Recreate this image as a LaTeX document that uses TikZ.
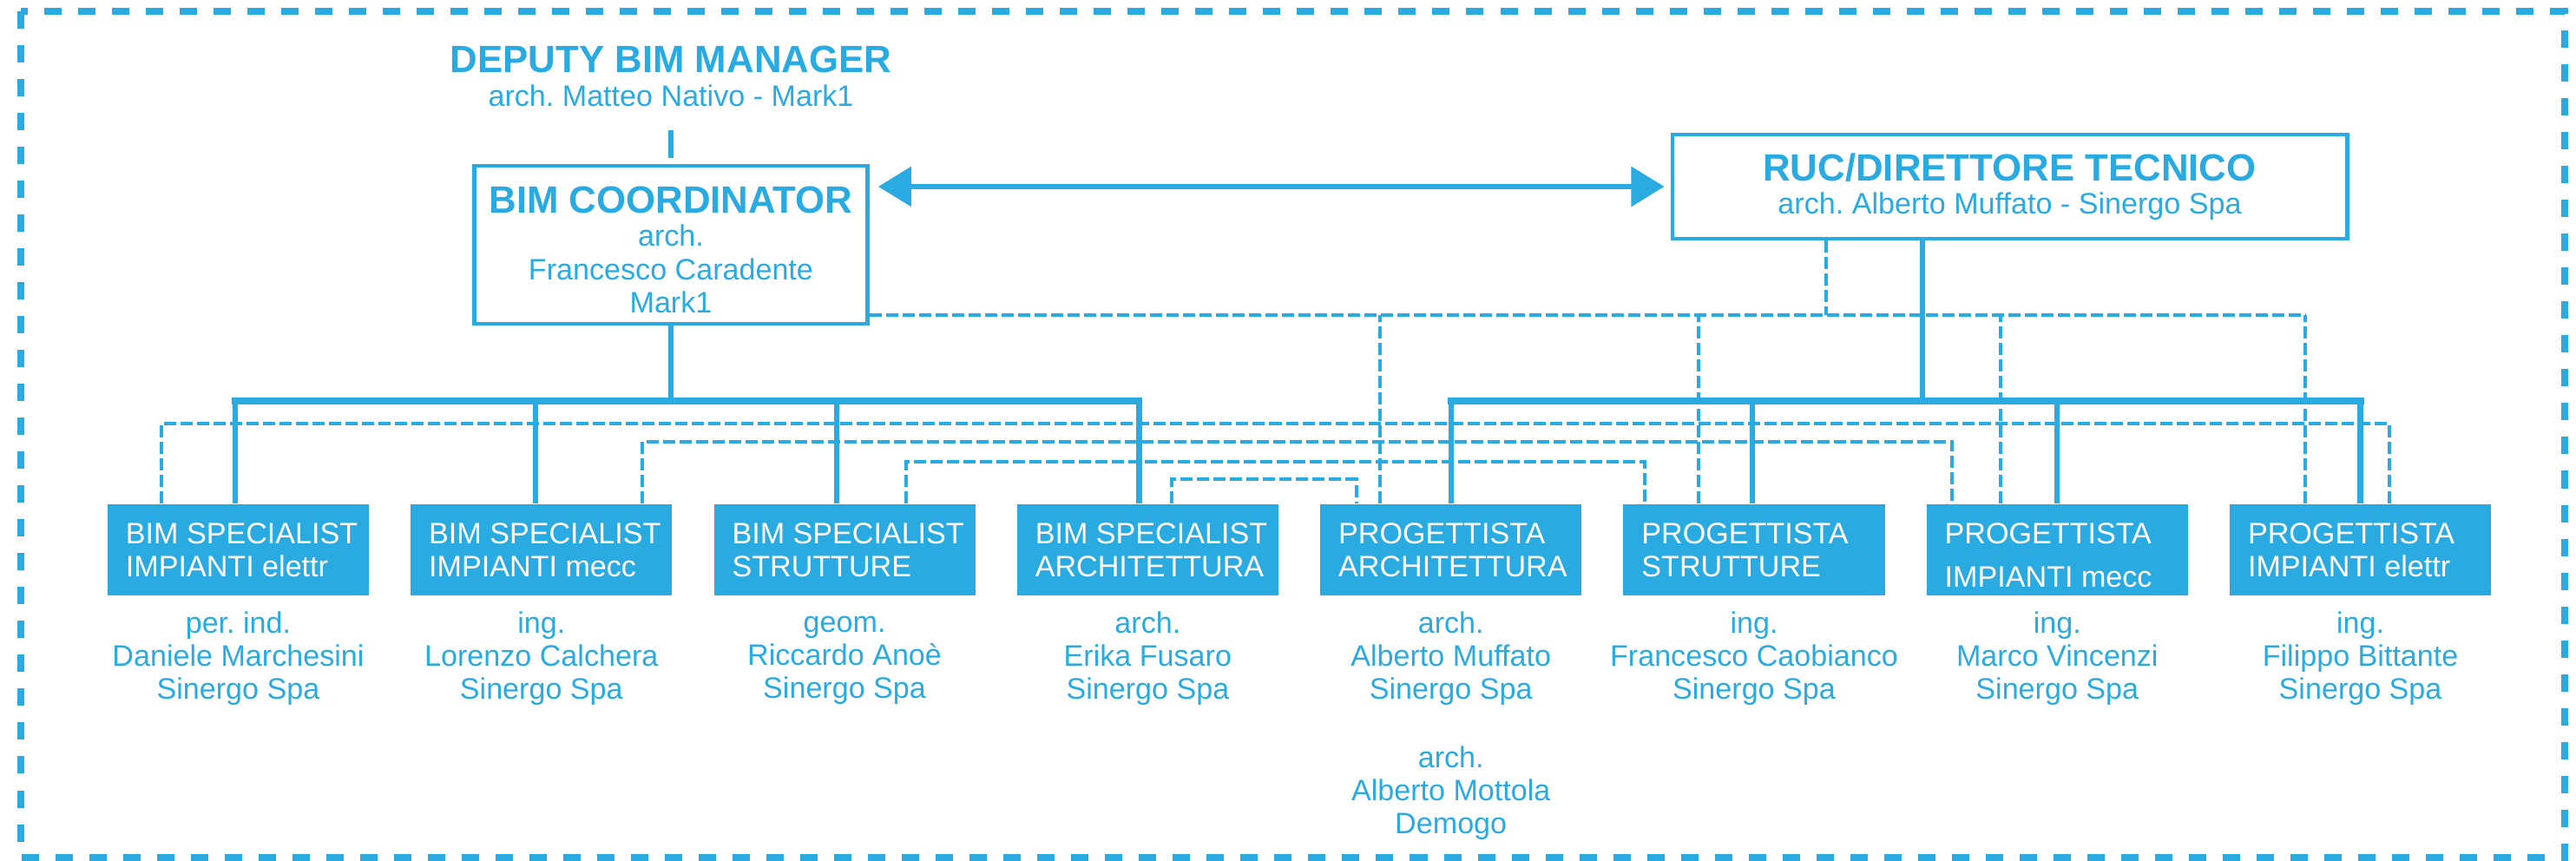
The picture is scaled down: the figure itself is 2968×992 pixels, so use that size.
\documentclass[tikz,border=0pt]{standalone}
\usepackage{fontspec}
\setmainfont{Liberation Sans}
\usetikzlibrary{arrows.meta}
\definecolor{bimblue}{RGB}{41,171,226}
\newcommand\bimhead{\fontsize{12.45}{14}\selectfont\bfseries}
\frenchspacing

\begin{document}
\begin{tikzpicture}[x=0.01cm,y=-0.01cm,
    every node/.style={text=bimblue,inner sep=0pt,align=center,
      font=\fontsize{9.7}{10.9}\selectfont},
    rolebox/.style={draw=bimblue,line width=1.3pt},
    specbox/.style={fill=bimblue,minimum width=3.01cm,minimum height=1.05cm},
    spectext/.style={text=white,align=left,anchor=west},
    person/.style={execute at begin node=\strut},
    frame/.style={draw=bimblue,line width=2.1pt,dash pattern=on 0.2cm off 0.19cm},
    trunk/.style={draw=bimblue,line width=2.3pt,line cap=rect},
    drop/.style={draw=bimblue,line width=1.8pt},
    link/.style={draw=bimblue,line width=1.1pt,dash pattern=on 0.14cm off 0.05cm},
    twoway/.style={draw=bimblue,fill=bimblue,line width=1.7pt,
      {Triangle[length=0.38cm,width=0.45cm]}-{Triangle[length=0.38cm,width=0.45cm]}}]
  \useasboundingbox (0,0) rectangle (2968,992);
  \draw[frame] (24,13) rectangle (2955,988);

  \node (deputy) at (773,88) {{\bimhead DEPUTY BIM MANAGER}\\arch. Matteo Nativo - Mark1};
  \node[rolebox,minimum width=4.53cm,minimum height=1.82cm] (coord) at (773,282)
    {{\bimhead\rule{0pt}{12pt}BIM COORDINATOR}\\arch.\\Francesco Caradente\\Mark1};
  \node[rolebox,minimum width=7.77cm,minimum height=1.2cm] (ruc) at (2315.5,215)
    {{\bimhead RUC/DIRETTORE TECNICO}\\arch. Alberto Muffato - Sinergo Spa};

  % specialist boxes
  \node[specbox] (b1) at (274.5,633.5) {};
  \node[specbox] (b2) at (623.8,633.5) {};
  \node[specbox] (b3) at (973.1,633.5) {};
  \node[specbox] (b4) at (1322.4,633.5) {};
  \node[specbox] (b5) at (1671.7,633.5) {};
  \node[specbox] (b6) at (2021,633.5) {};
  \node[specbox] (b7) at (2370.3,633.5) {};
  \node[specbox] (b8) at (2719.6,633.5) {};
  \node[spectext] (t1) at ([xshift=0.21cm]b1.west) {BIM SPECIALIST\\IMPIANTI elettr};
  \node[spectext] (t2) at ([xshift=0.21cm]b2.west) {BIM SPECIALIST\\IMPIANTI mecc};
  \node[spectext] (t3) at ([xshift=0.21cm]b3.west) {BIM SPECIALIST\\STRUTTURE};
  \node[spectext] (t4) at ([xshift=0.21cm]b4.west) {BIM SPECIALIST\\ARCHITETTURA};
  \node[spectext] (t5) at ([xshift=0.21cm]b5.west) {PROGETTISTA\\ARCHITETTURA};
  \node[spectext] (t6) at ([xshift=0.21cm]b6.west) {PROGETTISTA\\STRUTTURE};
  \node[spectext] (t7) at ([xshift=0.21cm,yshift=-0.06cm]b7.west) {PROGETTISTA\\[3.4pt]IMPIANTI mecc};
  \node[spectext] (t8) at ([xshift=0.21cm]b8.west) {PROGETTISTA\\IMPIANTI elettr};

  % names
  \node[person] (n1) at (274.5,761) {per. ind.\\Daniele Marchesini\\Sinergo Spa};
  \node[person] (n2) at (623.8,761) {ing.\\Lorenzo Calchera\\Sinergo Spa};
  \node[person] (n3) at (973.1,763) {geom.\\Riccardo Anoè\\Sinergo Spa};
  \node[person] (n4) at (1322.4,761) {arch.\\Erika Fusaro\\Sinergo Spa};
  \node[person] (n5) at (1671.7,761) {arch.\\Alberto Muffato\\Sinergo Spa};
  \node[person] (n6) at (2021,761) {ing.\\Francesco Caobianco\\Sinergo Spa};
  \node[person] (n7) at (2370.3,761) {ing.\\Marco Vincenzi\\Sinergo Spa};
  \node[person] (n8) at (2719.6,761) {ing.\\Filippo Bittante\\Sinergo Spa};
  \node[person] (n5b) at (1671.7,916) {arch.\\Alberto Mottola\\Demogo};

  % solid lines
  \draw[drop] ([yshift=0.39cm]coord.north) -- ([yshift=0.07cm]coord.north);
  \draw[twoway,shorten <=0.1cm,shorten >=0.07cm] (coord.east |- ruc.west) -- (ruc.west);
  \coordinate (bus) at (0,462);
  \coordinate (r0) at ([xshift=-1.005cm]ruc.south);
  \draw[drop] (coord.south) -- (coord.south |- bus);
  \draw[drop] (r0) -- (r0 |- bus);
  \foreach \k/\s in {1/-0.035,2/-0.065,3/-0.09,4/-0.1,5/0,6/-0.02,7/0,8/0}{
    \coordinate (s\k) at ([xshift=\s cm]b\k.north);
    \draw[drop] (s\k) -- (s\k |- bus);
  }
  \draw[trunk] (s1 |- bus) -- (s4 |- bus);
  \draw[trunk] (s5 |- bus) -- (s8 |- bus);

  % dashed lines
  \coordinate (e0) at ([yshift=0.12cm]coord.south east);
  \coordinate (r1) at ([xshift=-2.115cm]ruc.south);
  \foreach \k/\s in {5/-0.817,6/-0.64,7/-0.653,8/-0.636}{
    \coordinate (d\k) at ([xshift=\s cm]b\k.north);
    \draw[link] (d\k) -- (d\k |- e0);
  }
  \draw[link] (e0) -- (d8 |- e0);
  \draw[link] (r1) -- (r1 |- e0);
  \foreach \a/\sa/\b/\sb/\yy in {1/-0.885/8/0.334/488,2/1.16/7/-1.21/509,
      3/0.71/6/-1.26/532,4/0.28/5/-1.09/552}{
    \coordinate (pa) at ([xshift=\sa cm]b\a.north);
    \coordinate (pb) at ([xshift=\sb cm]b\b.north);
    \coordinate (lvl) at (0,\yy);
    \draw[link] (pa) |- (pb |- lvl) -- (pb);
  }
\end{tikzpicture}
\end{document}
